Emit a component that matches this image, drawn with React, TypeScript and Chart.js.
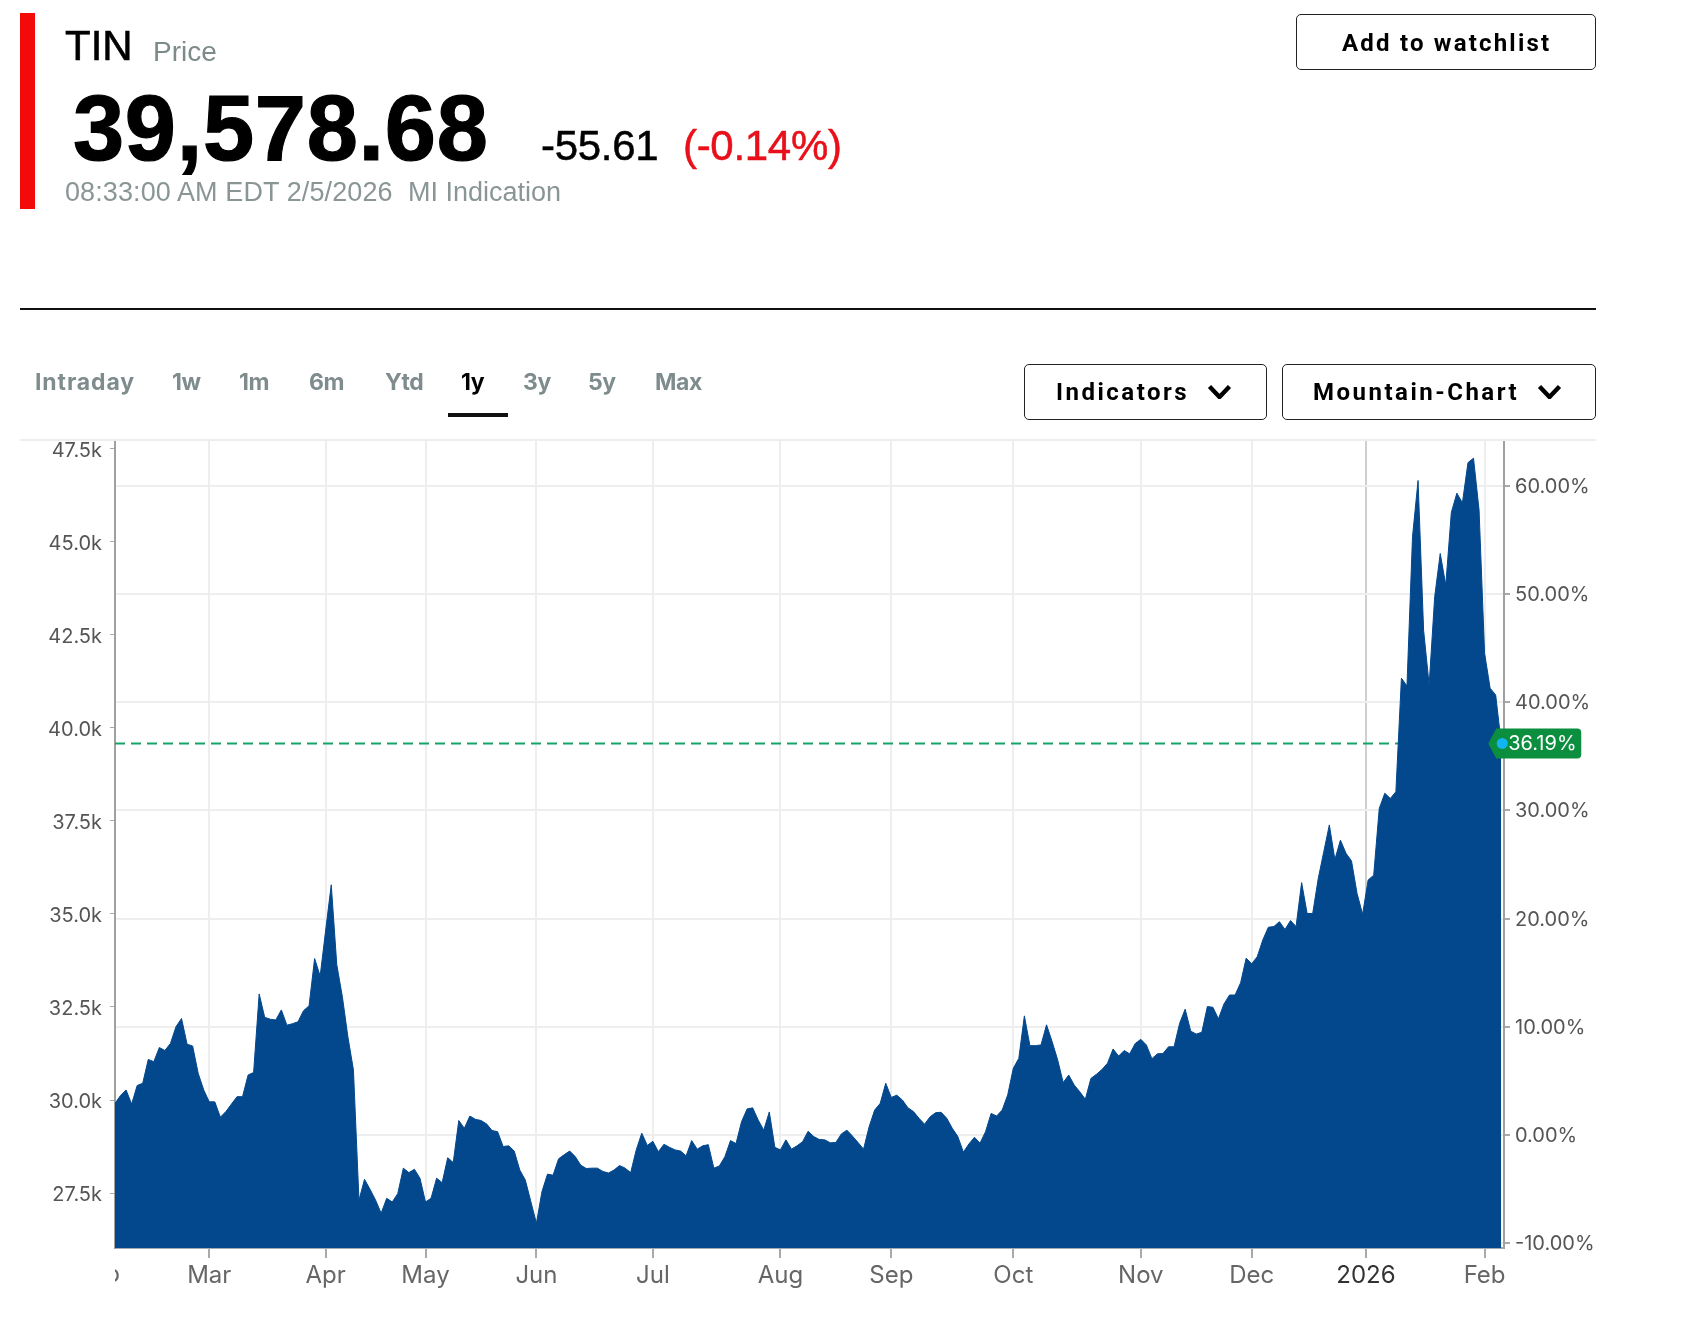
import { useEffect, useRef } from 'react';
import { Chart, registerables } from 'chart.js';

Chart.register(...registerables);

// daily close, one year of trading days
const prices = [
  29910, 30120, 30270, 29890, 30390, 30450, 31090, 31030, 31410, 31330, 31520, 31970, 32190, 31500, 31450, 30720, 30270,
  29950, 29950, 29540, 29690, 29890, 30090, 30090, 30670, 30740, 32850, 32220, 32170, 32150, 32420, 32010, 32050, 32100,
  32400, 32530, 33800, 33330, 34570, 35780, 33630, 32780, 31700, 30810, 27310, 27870, 27600, 27310, 26960, 27360, 27260,
  27490, 28170, 28050, 28140, 27900, 27260, 27360, 27900, 27780, 28450, 28320, 29450, 29240, 29570, 29480, 29450, 29360,
  29180, 29150, 28750, 28770, 28630, 28120, 27850, 27270, 26690, 27540, 28010, 27980, 28420, 28530, 28630, 28480, 28250,
  28160, 28170, 28170, 28080, 28040, 28120, 28240, 28170, 28050, 28660, 29110, 28780, 28890, 28610, 28810, 28730, 28660,
  28630, 28500, 28910, 28680, 28770, 28800, 28170, 28230, 28480, 28910, 28830, 29420, 29760, 29790, 29460, 29190, 29680,
  28730, 28660, 28930, 28680, 28770, 28880, 29160, 29020, 28940, 28930, 28850, 28860, 29090, 29190, 29030, 28860, 28680,
  29280, 29730, 29910, 30450, 30070, 30130, 30000, 29790, 29690, 29510, 29350, 29550, 29660, 29670, 29510, 29240, 29020,
  28600, 28820, 29000, 28840, 29150, 29640, 29570, 29730, 30140, 30850, 31120, 32260, 31460, 31460, 31480, 32020, 31570,
  31080, 30470, 30670, 30400, 30220, 30020, 30580, 30690, 30820, 30990, 31370, 31180, 31330, 31240, 31520, 31630, 31480,
  31110, 31240, 31250, 31430, 31430, 32060, 32440, 31850, 31770, 31820, 32510, 32490, 32180, 32580, 32820, 32820, 33150,
  33810, 33660, 33850, 34300, 34640, 34660, 34790, 34580, 34820, 34660, 35840, 35010, 35010, 35950, 36670, 37390, 36460,
  36980, 36630, 36420, 35550, 34990, 35910, 36040, 37830, 38240, 38100, 38280, 41330, 41120, 45130, 46640, 42620, 41150,
  43520, 44680, 43830, 45780, 46300, 46040, 47120, 47240, 45850, 42000, 41060, 40880, 39578.68,
];
const lastPrice = prices[prices.length - 1];
const basePrice = 29061;
const lastPct = (lastPrice / basePrice - 1) * 100;

const monthLabels = ['Mar', 'Apr', 'May', 'Jun', 'Jul', 'Aug', 'Sep', 'Oct', 'Nov', 'Dec', '2026', 'Feb'];
const monthIndex = [17, 38, 56, 76, 97, 120, 140, 162, 185, 205, 225.6, 247];
const priceTicks = [27500, 30000, 32500, 35000, 37500, 40000, 42500, 45000, 47500];
const pctTicks = [-10, 0, 10, 20, 30, 40, 50, 60];
const priceMin = 26025;
const priceMax = 47728;
const tabs = ['Intraday', '1w', '1m', '6m', 'Ytd', '1y', '3y', '5y', 'Max'];
const tabLeft = [35, 172, 239, 309, 385, 461, 523, 588, 655];

const TICK_FONT = 'Inter, sans-serif';

const lastMarker = {
  id: 'lastMarker',
  afterDraw(chart: any) {
    const { ctx, scales, chartArea } = chart;
    // clipped first month label on the left edge
    ctx.save();
    ctx.beginPath();
    ctx.rect(chartArea.left, chartArea.bottom + 4, 30, 50);
    ctx.clip();
    ctx.fillStyle = '#666';
    ctx.font = `24px ${TICK_FONT}`;
    ctx.textAlign = 'center';
    ctx.textBaseline = 'middle';
    ctx.fillText('Feb', chartArea.left - 16, chartArea.bottom + 27);
    ctx.restore();

    const x = scales.x.getPixelForValue(prices.length - 1);
    const y = scales.y.getPixelForValue(lastPrice);
    ctx.save();
    ctx.fillStyle = '#0b8f3e';
    ctx.beginPath();
    ctx.moveTo(x - 13, y);
    ctx.lineTo(x - 5, y - 15);
    ctx.lineTo(x + 76, y - 15);
    ctx.quadraticCurveTo(x + 80, y - 15, x + 80, y - 11);
    ctx.lineTo(x + 80, y + 11);
    ctx.quadraticCurveTo(x + 80, y + 15, x + 76, y + 15);
    ctx.lineTo(x - 5, y + 15);
    ctx.closePath();
    ctx.fill();
    ctx.fillStyle = '#12b5f2';
    ctx.beginPath();
    ctx.arc(x + 1, y, 5.5, 0, Math.PI * 2);
    ctx.fill();
    ctx.fillStyle = '#fff';
    ctx.font = `20px ${TICK_FONT}`;
    ctx.textAlign = 'left';
    ctx.textBaseline = 'middle';
    ctx.fillText(`${lastPct.toFixed(2)}%`, x + 7, y + 1);
    ctx.restore();
  },
};

function Text({ left, base, size, color = '#000', weight = 400, font = 'Liberation Sans', spacing = 0, stroke = 0, children }: any) {
  return (
    <div
      style={{
        position: 'absolute',
        left,
        top: base - size * 0.85,
        fontFamily: `"${font}", sans-serif`,
        fontSize: size,
        lineHeight: 1,
        fontWeight: weight,
        color,
        letterSpacing: spacing,
        whiteSpace: 'nowrap',
        WebkitTextStroke: stroke ? `${stroke}px ${color}` : undefined,
      }}
    >
      {children}
    </div>
  );
}

function Button({ left, right, top, bottom }: any) {
  return (
    <div
      style={{
        position: 'absolute',
        left,
        top,
        width: right - left,
        height: bottom - top,
        boxSizing: 'border-box',
        border: '1.5px solid #222',
        borderRadius: 5,
      }}
    />
  );
}

function Chevron({ left, top, width, height }: any) {
  return (
    <svg style={{ position: 'absolute', left, top }} width={width} height={height} viewBox="0 0 24 14">
      <polyline points="2,1.5 12,12 22,1.5" fill="none" stroke="#000" strokeWidth="4.4" />
    </svg>
  );
}

export default function App() {
  const canvasRef = useRef<HTMLCanvasElement>(null);

  useEffect(() => {
    if (!canvasRef.current) return;

    const chart = new Chart(canvasRef.current, {
      type: 'line',
      data: {
        datasets: [
          {
            data: prices.map((v, i) => ({ x: i, y: v })),
            borderColor: '#03478c',
            backgroundColor: '#03478c',
            borderWidth: 1,
            fill: 'start',
            tension: 0,
            pointRadius: 0,
            order: 1,
          },
          {
            data: prices.map((_, i) => ({ x: i, y: lastPrice })),
            borderColor: '#17a268',
            borderWidth: 2,
            borderDash: [10, 6],
            fill: false,
            pointRadius: 0,
            order: 2,
          },
        ],
      },
      options: {
        responsive: false,
        animation: false,
        events: [],
        layout: { padding: { top: 440 } },
        plugins: { legend: { display: false }, tooltip: { enabled: false } },
        scales: {
          x: {
            type: 'linear',
            min: 0,
            max: 250.5,
            afterBuildTicks: (s: any) => {
              s.ticks = monthIndex.map((v) => ({ value: v }));
            },
            afterFit: (s: any) => {
              s.height = 80;
            },
            border: { color: '#a3a9b3', width: 2 },
            grid: {
              color: (c: any) => (c.tick?.value === 225.6 ? '#cfcfcf' : '#eeeeee'),
              lineWidth: 2,
              tickLength: 10,
              tickColor: '#aaaaaa',
            },
            ticks: {
              autoSkip: false,
              maxRotation: 0,
              padding: 3,
              color: (c: any) => (c.tick?.value === 225.6 ? '#333' : '#666'),
              font: { family: TICK_FONT, size: 24 },
              callback: (v: any) => monthLabels[monthIndex.indexOf(v)],
            },
          },
          y: {
            type: 'linear',
            position: 'left',
            min: priceMin,
            max: priceMax,
            afterBuildTicks: (s: any) => {
              s.ticks = priceTicks.map((v) => ({ value: v }));
            },
            afterFit: (s: any) => {
              s.width = 115;
            },
            border: { color: '#a0a0a0', width: 2 },
            grid: { drawOnChartArea: false, tickLength: 5, tickColor: '#aaaaaa' },
            ticks: {
              padding: 8,
              labelOffset: 2,
              color: '#555',
              font: { family: TICK_FONT, size: 20 },
              callback: (v: any) => `${(v / 1000).toFixed(1)}k`,
            },
          },
          y1: {
            type: 'linear',
            position: 'right',
            min: (priceMin / basePrice - 1) * 100,
            max: (priceMax / basePrice - 1) * 100,
            afterBuildTicks: (s: any) => {
              s.ticks = pctTicks.map((v) => ({ value: v }));
            },
            afterFit: (s: any) => {
              s.width = 1689 - 1504;
            },
            border: { color: '#a0a0a0', width: 2 },
            grid: { color: '#eeeeee', lineWidth: 2, tickLength: 6, tickColor: '#aaaaaa' },
            ticks: {
              padding: 5,
              labelOffset: 1,
              color: '#555',
              font: { family: TICK_FONT, size: 20 },
              callback: (v: any) => `${v.toFixed(2)}%`,
            },
          },
        },
      },
      plugins: [lastMarker],
    } as any);

    return () => chart.destroy();
  }, []);

  return (
    <div style={{ position: 'absolute', left: 0, top: 0, width: 1689, height: 1328, background: '#fff', overflow: 'hidden' }}>
      <canvas ref={canvasRef} width={1689} height={1328} style={{ position: 'absolute', left: 0, top: 0 }} />

      <div style={{ position: 'absolute', left: 20, top: 13, width: 15, height: 196, background: '#f50a0a' }} />
      <Text left={65} base={61} size={42} stroke={0.6}>TIN</Text>
      <Text left={153} base={62} size={28} color="#7d8a8a">Price</Text>
      <Text left={73} base={160} size={92} weight={700} spacing={0.7} stroke={1.2}>39,578.68</Text>
      <Text left={541} base={161} size={42} spacing={-0.3} stroke={0.5}>-55.61</Text>
      <Text left={683} base={161} size={42} spacing={-0.3} color="#e8101a" stroke={0.5}>(-0.14%)</Text>
      <Text left={65} base={202} size={27} color="#8a9595" spacing={0.1}>08:33:00 AM EDT 2/5/2026</Text>
      <Text left={408} base={202} size={27} color="#8a9595">MI Indication</Text>

      <Button left={1296} right={1596} top={14} bottom={70} />
      <Text left={1342} base={51} size={24} weight={700} font="Roboto" spacing={2.2}>Add to watchlist</Text>

      <div style={{ position: 'absolute', left: 20, top: 308, width: 1576, height: 2, background: '#111' }} />

      {tabs.map((t, i) => (
        <Text key={t} left={tabLeft[i]} base={391} size={23} weight={700} font="Inter" color={t === '1y' ? '#000' : '#7f8c8d'} spacing={t === 'Intraday' ? 0.9 : -0.4}>
          {t}
        </Text>
      ))}
      <div style={{ position: 'absolute', left: 448, top: 413, width: 60, height: 4, background: '#111' }} />

      <Button left={1024} right={1267} top={364} bottom={420} />
      <Text left={1056} base={400} size={24} weight={700} font="Roboto" spacing={2.5}>Indicators</Text>
      <Chevron left={1207} top={385} width={25} height={14} />
      <Button left={1282} right={1596} top={364} bottom={420} />
      <Text left={1313} base={400} size={24} weight={700} font="Roboto" spacing={2.5}>Mountain-Chart</Text>
      <Chevron left={1537} top={385} width={25} height={14} />

      <div style={{ position: 'absolute', left: 20, top: 439, width: 1576, height: 2, background: '#eeeeee' }} />
    </div>
  );
}
